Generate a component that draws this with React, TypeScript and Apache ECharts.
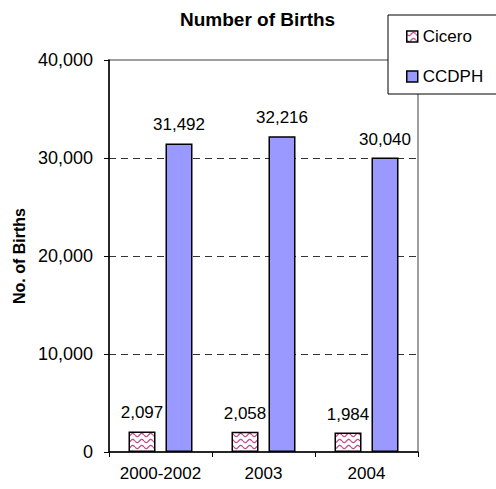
import React, { useEffect, useRef } from "react";
import * as echarts from "echarts";

const categories = ["2000-2002", "2003", "2004"];
const ciceroValues = [2097, 2058, 1984];
const ccdphValues = [31492, 32216, 30040];
const seriesNames = ["Cicero", "CCDPH"];
const titleText = "Number of Births";
const yAxisTitle = "No. of Births";

const FONT = "'Liberation Sans', Arial, sans-serif";

function makeWavePattern(): HTMLCanvasElement {
  const c = document.createElement("canvas");
  c.width = 9;
  c.height = 6;
  const ctx = c.getContext("2d")!;
  ctx.fillStyle = "#ffffff";
  ctx.fillRect(0, 0, 9, 6);
  ctx.strokeStyle = "#c0508f";
  ctx.lineWidth = 1.3;
  ctx.beginPath();
  for (let i = 0; i <= 18; i++) {
    const x = i * 0.5;
    const y = 3 + 1.6 * Math.sin((x / 9) * Math.PI * 2);
    if (i === 0) ctx.moveTo(x, y);
    else ctx.lineTo(x, y);
  }
  ctx.stroke();
  return c;
}

export default function App() {
  const ref = useRef<HTMLDivElement>(null);
  useEffect(() => {
    if (!ref.current) return;
    const chart = echarts.init(ref.current, undefined, { renderer: "svg" });
    const pattern = makeWavePattern();
    const fmt = (v: number) => v.toLocaleString("en-US");
    chart.setOption({
      animation: false,
      backgroundColor: "#ffffff",
      textStyle: { fontFamily: FONT },
      title: {
        text: titleText,
        left: 175,
        top: 5,
        textStyle: { fontFamily: FONT, fontSize: 19, fontWeight: "bold", color: "#000" },
      },
      legend: {
        orient: "vertical",
        left: 388,
        top: 15,
        padding: [13, 80, 9, 18],
        itemGap: 23,
        itemWidth: 11,
        itemHeight: 11,
        itemTextGap: 4,
        icon: "rect",
        borderColor: "#000",
        borderWidth: 1,
        backgroundColor: "#fff",
        textStyle: { fontFamily: FONT, fontSize: 17, color: "#000", lineHeight: 16 },
        itemStyle: { borderColor: "#000", borderWidth: 1.5 },
        data: seriesNames,
      },
      grid: { left: 109, right: 78, top: 60, bottom: 37, show: true, borderColor: "#808080", borderWidth: 1.5 },
      xAxis: {
        type: "category",
        data: categories,
        axisLine: { lineStyle: { color: "#000", width: 1.5 } },
        axisTick: { show: true, length: 5, lineStyle: { color: "#000" } },
        axisLabel: { margin: 13, interval: 0, hideOverlap: false, fontFamily: FONT, fontSize: 17, color: "#000" },
      },
      yAxis: {
        type: "value",
        min: 0,
        max: 40000,
        interval: 10000,
        name: yAxisTitle,
        nameLocation: "middle",
        nameGap: 81,
        nameTextStyle: { fontFamily: FONT, fontSize: 16, fontWeight: "bold", color: "#000" },
        axisLine: { show: true, lineStyle: { color: "#000", width: 1.5 } },
        axisTick: { show: true, length: 5, lineStyle: { color: "#000" } },
        axisLabel: { margin: 16, fontFamily: FONT, fontSize: 18, color: "#000", formatter: (v: number) => fmt(v) },
        splitLine: {
          show: true,
          showMinLine: false,
          showMaxLine: false,
          lineStyle: { color: "#333", type: [7, 5], width: 1 },
        },
      },
      series: [
        {
          name: seriesNames[0],
          type: "bar",
          data: ciceroValues,
          barWidth: 27,
          barGap: "37%",
          itemStyle: { color: { image: pattern, repeat: "repeat" } as any, borderColor: "#000", borderWidth: 1.5 },
          label: { show: true, position: "top", distance: 10, fontFamily: FONT, fontSize: 17, color: "#000", formatter: (p: any) => fmt(p.value) },
        },
        {
          name: seriesNames[1],
          type: "bar",
          data: ccdphValues,
          barWidth: 27,
          barGap: "37%",
          itemStyle: { color: "#9999ff", borderColor: "#000", borderWidth: 1.5 },
          label: { show: true, position: "top", distance: 10, fontFamily: FONT, fontSize: 17, color: "#000", formatter: (p: any) => fmt(p.value) },
        },
      ],
    });
    return () => chart.dispose();
  }, []);
  return <div ref={ref} style={{ width: 496, height: 489, position: "absolute", left: 0, top: 0 }} />;
}
